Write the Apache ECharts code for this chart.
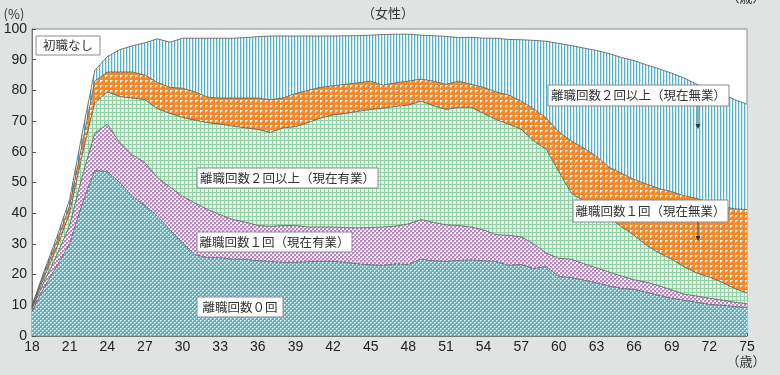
<!DOCTYPE html>
<html>
<head>
<meta charset="utf-8">
<script src="https://cdn.jsdelivr.net/npm/echarts@6/dist/echarts.min.js"></script>
<style>
html,body{margin:0;padding:0;background:#dfe4e3;}
#c{width:780px;height:375px;}
</style>
</head>
<body>
<div id="c"></div>
<script>
const ages = ['18','19','20','21','22','23','24','25','26','27','28','29','30','31','32','33','34','35','36','37','38','39','40','41','42','43','44','45','46','47','48','49','50','51','52','53','54','55','56','57','58','59','60','61','62','63','64','65','66','67','68','69','70','71','72','73','74','75'];

// 離職回数0回
const zero = [8,16,23,30,43,54,53.5,50,45.5,42.5,39,34.6,30.3,26.5,25.5,25.5,25,25,24.5,24.3,24,24,24.2,24.3,24.3,24,23.5,23.2,23,23.5,23.3,25,24.5,24.3,24.6,24.8,24.5,24.3,23,23.3,22,22.6,19.4,19,18.2,17.3,16.3,15.5,15.2,14.2,13.2,12.3,11.6,11,10.3,10,9.6,9.3];
// 離職回数1回（現在有業）
const oneEmp = [0.8,2,3.5,6,9,12,15.5,13,13.5,14,12.5,13.9,15.2,16.8,15.7,14,12.9,12.1,11.5,11.4,12,12,11.3,11.2,11.2,11.3,11.7,12.1,12.5,12.3,13.2,12.9,12.5,11.9,11.4,10.7,10,8.7,9.8,9,8,4.4,5.9,6,5.3,4.9,4.5,4,3.1,3.3,3.1,2.7,2,2,2,1.7,1.4,1.2];
// 離職回数2回以上（現在有業）
const twoEmp = [0.4,1.5,2.5,4,7,10,10.5,15,18.5,20.5,22.5,24,25.7,27,28.3,29.5,30.5,30.7,31.3,30.6,31.8,32.2,34,35.5,36.5,37.2,38,38.5,38.7,39,38.7,38.6,38,37.6,38.5,39,38,37.5,36.2,35,33.5,33.8,28.2,21.5,20.5,20.1,17.7,16.1,14.5,12,10.7,10,8.9,7.5,6.9,5.8,4.5,3.5];
// 離職回数1回（現在無業）
const oneNon = [0.4,1.2,2,2.5,3.5,7,6.5,8,8.5,8,8.6,8.5,9.5,9.2,8.3,8.5,9.1,9.7,10.2,10.7,9.7,10.8,10.5,10,9.5,9.5,9.3,9.2,7.5,7.7,7.8,7.2,8,8.2,8.5,7.5,8.5,9,9.5,9.2,10.5,10.2,13,17,17.2,16.2,16.5,17.4,18.2,20,21,22,23.2,24.3,24.3,24.7,25.9,27.2];
// 離職回数2回以上（現在無業）
const twoNon = [0.4,0.8,1.5,2,3.5,3.5,5,7.3,8.5,10.5,14.2,14.7,16.3,17.5,19.2,19.5,19.5,19.7,20,20.7,20.2,18.7,17.7,16.7,16.2,15.8,15.3,15,16.5,15.8,15.3,14.3,14.8,15.6,14.2,15.3,16,17.5,18.1,20,22.3,25,28.8,31.1,32.6,34.5,37,37.7,38.7,38.8,39,38.6,38.3,37.2,36.8,36.8,35.6,34.3];

const yTicks = [0,10,20,30,40,50,60,70,80,90,100];

function pat(w, h, draw) {
  const c = document.createElement('canvas');
  c.width = w; c.height = h;
  const g = c.getContext('2d');
  draw(g);
  return {image: c, repeat: 'repeat'};
}
const patBlue = pat(4, 4, g => {
  g.fillStyle = '#4db5ce'; g.fillRect(0,0,4,4);
  g.fillStyle = '#ffffff'; g.fillRect(0,0,1,1); g.fillRect(2,2,1,1);
  g.fillStyle = '#b4e1ec'; g.fillRect(1,0,1,1); g.fillRect(3,2,1,1); g.fillRect(0,1,1,1); g.fillRect(2,3,1,1);
});
const patPink = pat(4, 4, g => {
  g.fillStyle = '#ffffff'; g.fillRect(0,0,4,4);
  g.fillStyle = '#b68abd'; g.fillRect(0,0,2,2); g.fillRect(2,2,2,2);
  g.fillStyle = '#dcc4df'; g.fillRect(2,0,1,1); g.fillRect(0,2,1,1);
});
const patGreen = pat(4, 4, g => {
  g.fillStyle = '#ffffff'; g.fillRect(0,0,4,4);
  g.fillStyle = '#92cfa3'; g.fillRect(0,0,4,1); g.fillRect(0,0,1,4);
  g.fillStyle = '#e3f2e7'; g.fillRect(1,1,3,3);
});
const patOrange = pat(5, 5, g => {
  g.fillStyle = '#f08a2c'; g.fillRect(0,0,5,5);
  g.fillStyle = '#ffffff';
  g.beginPath(); g.moveTo(0,0); g.lineTo(3,0); g.lineTo(0,3); g.closePath(); g.fill();
});
const patLines = pat(3, 3, g => {
  g.fillStyle = '#ffffff'; g.fillRect(0,0,3,3);
  g.fillStyle = '#4fb3cb'; g.fillRect(0,0,1,3);
  g.fillStyle = '#cde9f0'; g.fillRect(1,0,1,3);
});

function layer(name, data, fill) {
  return {
    name: name, type: 'line', stack: 'all', data: data,
    showSymbol: false, symbol: 'none', silent: true,
    lineStyle: {color: '#555', width: 0.8},
    areaStyle: {color: fill, opacity: 1}
  };
}

const jp = '"Noto Sans CJK JP", sans-serif';
function box(x, y, w, h, text) {
  return {
    type: 'group', x: x, y: y, z: 100,
    children: [
      {type: 'rect', z: 100, shape: {x: 0, y: 0, width: w, height: h},
       style: {fill: '#fff', stroke: '#8a8a8a', lineWidth: 1}},
      {type: 'text', z: 101, x: w / 2, y: h / 2,
       style: {text: text, font: '12.5px ' + jp, fill: '#333', align: 'center', verticalAlign: 'middle'}}
    ]
  };
}
function arrow(x, y1, y2) {
  return [
    {type: 'line', z: 100, shape: {x1: x, y1: y1, x2: x, y2: y2 - 4}, style: {stroke: '#333', lineWidth: 0.8}},
    {type: 'polygon', z: 100, shape: {points: [[x - 2.5, y2 - 5], [x + 2.5, y2 - 5], [x, y2]]}, style: {fill: '#333'}}
  ];
}

const chart = echarts.init(document.getElementById('c'), null, {renderer: 'canvas'});
chart.setOption({
  backgroundColor: '#dfe4e3',
  animation: false,
  grid: {left: 32, right: 33, top: 29, bottom: 39, show: true, backgroundColor: '#ffffff', borderColor: '#8a8a8a', borderWidth: 1},
  xAxis: {
    type: 'category', data: ages, boundaryGap: false,
    axisLine: {lineStyle: {color: '#777', width: 1}},
    axisTick: {show: true, inside: true, length: 3, interval: 0, lineStyle: {color: '#555'}},
    axisLabel: {interval: 2, color: '#222', fontSize: 14, margin: 4, fontFamily: 'Liberation Sans'},
    splitLine: {show: false}
  },
  yAxis: {
    type: 'value', min: 0, max: 100, interval: 10,
    axisLine: {show: true, lineStyle: {color: '#777', width: 1}},
    axisTick: {show: true, inside: true, length: 4, lineStyle: {color: '#555'}},
    axisLabel: {color: '#222', fontSize: 14, margin: 5, fontFamily: 'Liberation Sans',
      formatter: v => yTicks.indexOf(v) >= 0 ? String(v) : ''},
    splitLine: {show: false}
  },
  series: [
    layer('離職回数0回', zero, patBlue),
    layer('離職回数1回（現在有業）', oneEmp, patPink),
    layer('離職回数2回以上（現在有業）', twoEmp, patGreen),
    layer('離職回数1回（現在無業）', oneNon, patOrange),
    layer('離職回数2回以上（現在無業）', twoNon, patLines)
  ],
  graphic: [
    {type: 'text', z: 100, x: 388, y: 13, style: {text: '（女性）', font: '13px ' + jp, fill: '#333', align: 'center', verticalAlign: 'middle'}},
    {type: 'text', z: 100, x: 14, y: 14, style: {text: '(%)', font: '13px ' + jp, fill: '#333', align: 'center', verticalAlign: 'middle'}},
    {type: 'text', z: 100, x: 746, y: -3, style: {text: '（歳）', font: '13px ' + jp, fill: '#333', align: 'center', verticalAlign: 'middle'}},
    {type: 'text', z: 100, x: 746, y: 361, style: {text: '（歳）', font: '13px ' + jp, fill: '#333', align: 'center', verticalAlign: 'middle'}},
    box(36, 36, 64, 19, '初職なし'),
    box(548, 85, 181, 21, '離職回数２回以上（現在無業）'),
    box(573, 200, 155, 22, '離職回数１回（現在無業）'),
    box(197, 168, 181, 20, '離職回数２回以上（現在有業）'),
    box(197, 232, 155, 20, '離職回数１回（現在有業）'),
    box(197, 297, 86, 20, '離職回数０回'),
    ...arrow(698, 106, 129),
    ...arrow(698, 222, 241)
  ]
});
</script>
</body>
</html>
